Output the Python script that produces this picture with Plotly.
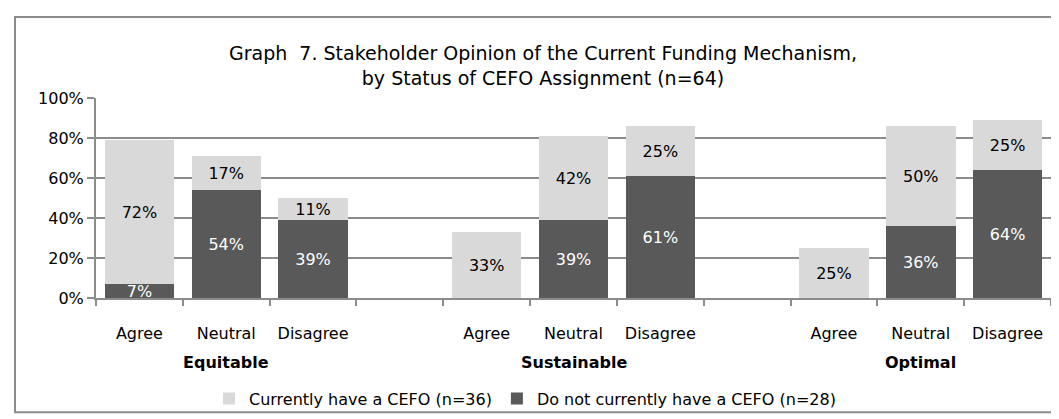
import plotly.graph_objects as go

groups = ["Equitable", "Sustainable", "Optimal"]
responses = ["Agree", "Neutral", "Disagree"]
have_cefo = [72, 17, 11, 33, 42, 25, 25, 50, 25]      # Currently have a CEFO (n=36)
no_cefo = [7, 54, 39, 0, 39, 61, 0, 36, 64]           # Do not currently have a CEFO (n=28)
y_ticks = [0, 20, 40, 60, 80, 100]

FONT = "DejaVu Sans"
GRAY = "#8c8c8c"

# x positions: each group holds 3 response slots plus one empty separator slot
xpos = [g * (len(responses) + 1) + c for g in range(len(groups)) for c in range(len(responses))]
xlabels = [r for g in groups for r in responses]

def lab(vals):
    return [f"{v}%" if v else "" for v in vals]

fig = go.Figure()
fig.add_trace(go.Bar(
    x=xpos, y=no_cefo, name="Do not currently have a CEFO (n=28)",
    marker=dict(color="#595959", line=dict(width=0)),
    text=lab(no_cefo), textposition="inside", insidetextanchor="middle",
    textangle=0, constraintext="none",
    insidetextfont=dict(family=FONT, size=16, color="white"),
    width=0.8, legendrank=2, cliponaxis=False,
))
fig.add_trace(go.Bar(
    x=xpos, y=have_cefo, name="Currently have a CEFO (n=36)",
    marker=dict(color="#d9d9d9", line=dict(width=0)),
    text=lab(have_cefo), textposition="inside", insidetextanchor="middle",
    textangle=0, constraintext="none",
    insidetextfont=dict(family=FONT, size=16, color="black"),
    width=0.8, legendrank=1, cliponaxis=False,
))

slot = len(responses) + 1
for g, name in enumerate(groups):
    fig.add_annotation(
        x=g * slot + (len(responses) - 1) / 2, xref="x",
        y=-0.32, yref="paper", yanchor="middle",
        text=f"<b>{name}</b>", showarrow=False,
        font=dict(family=FONT, size=16, color="black"),
    )

# outer chart border
L, R, T, B = 88, 16, 90, 124
W, H = 1059, 419
pw, ph = W - L - R, H - T - B
fig.add_shape(
    type="rect", xref="paper", yref="paper",
    x0=(7 - L) / pw, x1=(W - 7 - L) / pw,
    y0=(H - B - (H - 7)) / ph, y1=(H - B - 7) / ph,
    line=dict(color=GRAY, width=2), fillcolor="rgba(0,0,0,0)", layer="below",
)

fig.update_layout(
    width=W, height=H,
    margin=dict(l=L, r=R, t=T, b=B),
    barmode="stack",
    paper_bgcolor="white", plot_bgcolor="white",
    title=dict(
        text="Graph  7. Stakeholder Opinion of the Current Funding Mechanism,<br>by Status of CEFO Assignment (n=64)",
        x=535 / W, xanchor="center", y=1 - 52 / H, yanchor="middle", xref="container", yref="container",
        font=dict(family=FONT, size=19, color="black"),
    ),
    legend=dict(
        orientation="h", x=(517 - L) / pw, xanchor="center", y=(H - B - 398) / ph, yanchor="middle",
        font=dict(family=FONT, size=16, color="black"), traceorder="normal",
        bgcolor="rgba(0,0,0,0)",
    ),
    xaxis=dict(
        range=[-0.5, xpos[-1] + 0.5], tickmode="array", tickvals=xpos, ticktext=xlabels,
        ticks="", showgrid=False, showline=True, linecolor=GRAY, linewidth=2,
        tickfont=dict(family=FONT, size=16, color="black"), ticklabelstandoff=20,
        minor=dict(ticks="outside", ticklen=6, tickcolor=GRAY, tickwidth=2, tick0=-0.5, dtick=1, showgrid=False),
        zeroline=False, fixedrange=True,
    ),
    yaxis=dict(
        range=[0, 100], tickmode="array", tickvals=y_ticks, ticktext=[f"{v}%" for v in y_ticks],
        ticks="outside", ticklen=7, tickcolor=GRAY, tickwidth=2,
        showgrid=True, gridcolor=GRAY, gridwidth=2,
        showline=True, linecolor=GRAY, linewidth=2, zeroline=False,
        tickfont=dict(family=FONT, size=16, color="black"),
    ),
    showlegend=True,
)

fig.write_html("out.html")
